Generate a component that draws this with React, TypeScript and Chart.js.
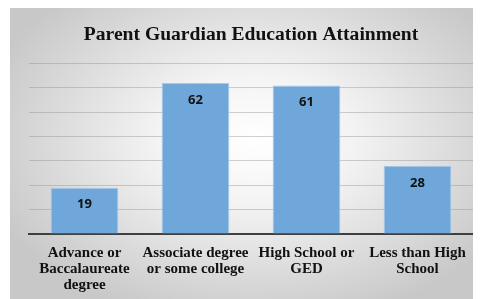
import React, { useEffect, useRef } from "react";
import { Chart, registerables } from "chart.js";

Chart.register(...registerables);

const categories: string[][] = [
  ["Advance or", "Baccalaureate", "degree"],
  ["Associate degree", "or some college"],
  ["High School or", "GED"],
  ["Less than High", "School"],
];
const values: number[] = [19, 62, 61, 28];
const titleText = "Parent Guardian Education Attainment";
const yMax = 70;
const yStep = 10;

const valueLabels = {
  id: "valueLabels",
  afterDatasetsDraw(chart: any) {
    const ctx = chart.ctx;
    const meta = chart.getDatasetMeta(0);
    ctx.save();
    ctx.font = "bold 13px 'Open Sans', 'Liberation Sans', sans-serif";
    ctx.fillStyle = "#111";
    ctx.textAlign = "center";
    ctx.textBaseline = "middle";
    meta.data.forEach((bar: any, i: number) => {
      ctx.fillText(String(values[i]), bar.x, bar.y + 17);
    });
    ctx.restore();
  },
};

export default function App() {
  const ref = useRef<HTMLCanvasElement | null>(null);
  useEffect(() => {
    if (!ref.current) return;
    const chart = new Chart(ref.current, {
      type: "bar",
      data: {
        labels: categories,
        datasets: [
          {
            data: values,
            backgroundColor: "#6fa7db",
            borderColor: "#a6c8ea",
            borderWidth: 1,
            categoryPercentage: 0.61,
            barPercentage: 1,
          },
        ],
      },
      options: {
        animation: false,
        responsive: false,
        devicePixelRatio: 1,
        layout: { padding: { left: 19, right: 8, bottom: 0, top: 0 } },
        plugins: {
          legend: { display: false },
          tooltip: { enabled: false },
          title: {
            display: true,
            text: titleText,
            color: "#111",
            font: { family: "'Liberation Serif', 'DejaVu Serif', serif", size: 19.6, weight: "bold", lineHeight: 1.2 },
            padding: { top: 15, bottom: 17 },
          },
        },
        scales: {
          x: {
            grid: { display: false, drawTicks: false },
            border: { display: true, color: "#3f3f3f", width: 2 },
            afterFit: (scale: any) => {
              scale.height = 65;
            },
            ticks: {
              color: "#111",
              maxRotation: 0,
              autoSkip: false,
              padding: 11,
              font: { family: "'Liberation Serif', 'DejaVu Serif', serif", size: 15, weight: "bold", lineHeight: "16px" },
            },
          },
          y: {
            min: 0,
            max: yMax,
            ticks: { display: false, stepSize: yStep },
            border: { display: false },
            grid: { color: "rgba(140,140,140,0.4)", lineWidth: 1, drawTicks: false },
          },
        },
      },
      plugins: [valueLabels],
    });
    return () => chart.destroy();
  }, []);
  return (
    <div
      style={{
        marginLeft: 2,
        width: 471,
        height: 291,
        background:
          "radial-gradient(ellipse 60% 65% at 52% 45%, #ffffff 0%, #f3f3f3 35%, #c8c8c8 100%)",
      }}
    >
      <canvas ref={ref} width={471} height={291} style={{ display: "block" }} />
    </div>
  );
}
